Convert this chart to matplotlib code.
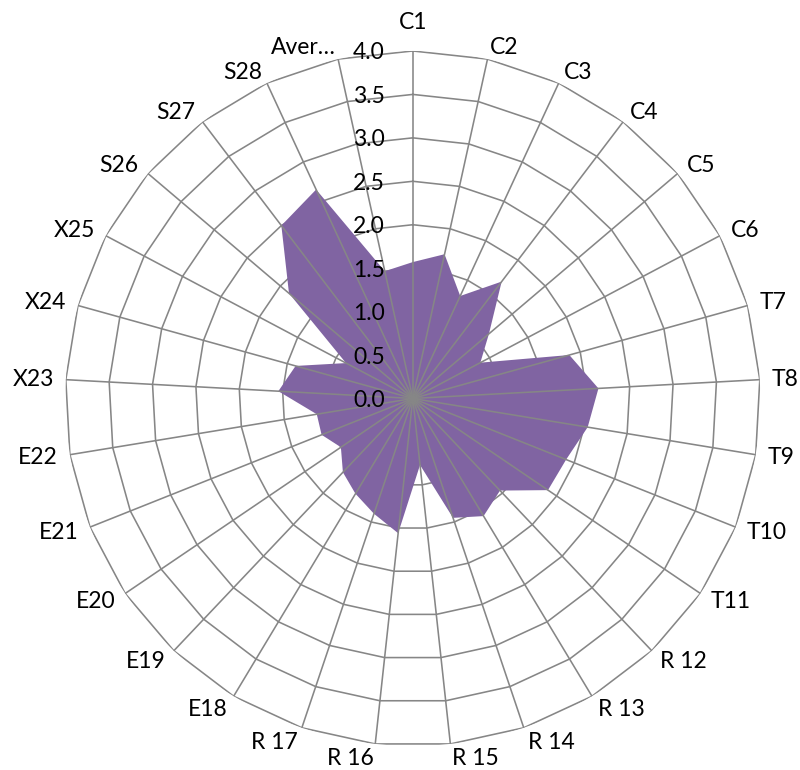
import numpy as np
import matplotlib
matplotlib.use("Agg")
import matplotlib.pyplot as plt
from matplotlib.transforms import offset_copy

# Category names, clockwise from the top
categories = ["C1", "C2", "C3", "C4", "C5", "C6",
              "T7", "T8", "T9", "T10", "T11",
              "R 12", "R 13", "R 14", "R 15", "R 16", "R 17",
              "E18", "E19", "E20", "E21", "E22",
              "X23", "X24", "X25",
              "S26", "S27", "S28", "Aver\u2026"]

# Score for each category
scores = [1.57, 1.70, 1.30, 1.69, 1.15, 0.88,
          1.87, 2.14, 2.04, 1.90, 1.88,
          1.46, 1.58, 1.45, 0.77, 1.56, 1.40,
          1.28, 1.17, 1.00, 1.13, 1.12,
          1.55, 1.40, 0.87,
          1.87, 2.50, 2.65, 1.50]

# Radial gridline levels and their labels
ring_levels = [0.5, 1.0, 1.5, 2.0, 2.5, 3.0, 3.5, 4.0]
tick_values = [0.0, 0.5, 1.0, 1.5, 2.0, 2.5, 3.0, 3.5, 4.0]
tick_labels = ["0.0", "0.5", "1.0", "1.5", "2.0", "2.5", "3.0", "3.5", "4.0"]

FONT = ["Lato", "DejaVu Sans"]
GRID = "#868686"
FILL = "#8064A2"
RMAX = 4.0
FS = 16.5

fig = plt.figure(figsize=(8, 7.7), dpi=100)
ax = fig.add_axes([0.0815, 0.0312, 0.869, 0.9026], projection="polar")
ax.set_theta_zero_location("N")
ax.set_theta_direction(-1)
ax.set_ylim(0, RMAX)
ax.grid(False)
ax.spines["polar"].set_visible(False)
ax.set_xticks([])
ax.set_yticks([])
ax.patch.set_visible(False)

n = len(categories)
angles = np.arange(n) * 2 * np.pi / n
closed_angles = np.append(angles, angles[0])

# Polygonal rings behind the series
for lvl in ring_levels:
    ax.plot(closed_angles, [lvl] * (n + 1), color=GRID, lw=1.15,
            zorder=1, solid_joinstyle="miter")

# Filled series
closed_scores = np.append(scores, scores[0])
ax.fill(closed_angles, closed_scores, color=FILL, lw=0, zorder=2)

# Spokes drawn over the fill
for a in angles:
    ax.plot([a, a], [0, RMAX], color=GRID, lw=1.15, zorder=3)

# Category labels: anchored just outside the outer ring, aligned by side
for a, lab in zip(angles, categories):
    s, c = np.sin(a), np.cos(a)
    if abs(s) < 1e-6:
        ha, va, gap = "center", "bottom", 18.0
    else:
        ha, va, gap = ("left" if s > 0 else "right"), "center", 12.0
    dx = gap * s
    dy = gap * c - 3.0 * max(0.0, -c)
    trans = offset_copy(ax.transData, fig=fig, x=dx, y=dy, units="dots")
    ax.text(a, RMAX, lab, transform=trans, ha=ha, va=va, fontsize=FS,
            family=FONT, color="black", zorder=5)

# Value labels along the vertical spoke
tick_trans = offset_copy(ax.transData, fig=fig, x=-28, y=-2, units="dots")
for v, t in zip(tick_values, tick_labels):
    ax.text(0, v, t, transform=tick_trans, ha="right", va="center",
            fontsize=FS, family=FONT, color="black", zorder=5)

fig.savefig("out.png", dpi=100)
